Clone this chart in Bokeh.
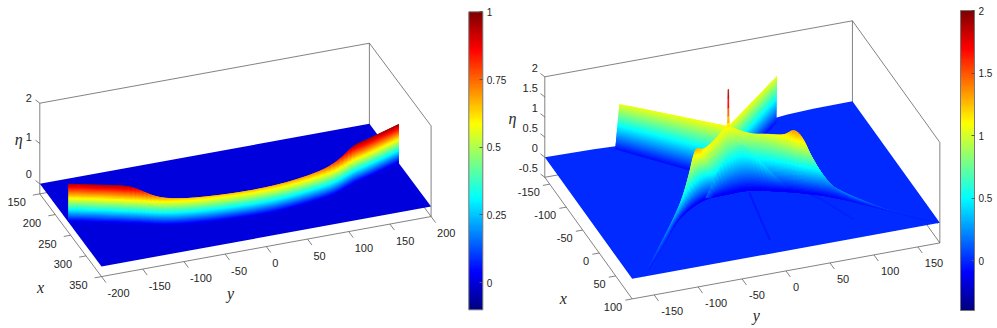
from bokeh.plotting import figure
from bokeh.layouts import row
from bokeh.models import Range1d, ColorBar, LinearColorMapper, FixedTicker
from bokeh.core.properties import value
from bokeh.embed import file_html
from bokeh.resources import INLINE
import numpy as np

# ---- Values -----------------------------------------------------------------
# The surfaces are reconstructed as sheets spanned between crest and foot
# lines; the original mesh values are not available.

# Left panel
L_xlim = [150, 350]
L_ylim = [-200, 200]
L_zlim = [-0.25, 2]
L_clim = [-0.1, 1]
L_xticks = [150, 200, 250, 300, 350]
L_yticks = [-200, -150, -100, -50, 0, 50, 100, 150, 200]
L_zticks = [0, 1, 2]
L_ctick = [0, 0.25, 0.5, 0.75, 1]
L_ctick_labels = ["0", "0.25", "0.5", "0.75", "1"]
L_crest_y = [-200, -170, -138.4, -121.6, -104, -75, -29, 27, 82, 110, 135, 155, 200]
L_crest_x = [242.5, 255.7, 269.6, 277.2, 285.7, 294.3, 300.8, 302.8, 294.7, 286.4, 272.3, 264.7, 245.3]
L_crest_h = [0.95, 0.95, 0.945, 0.82, 0.70, 0.66, 0.66, 0.68, 0.72, 0.82, 0.95, 0.97, 0.97]

# Right panel
R_xlim = [-165, 100]
R_ylim = [-175, 175]
R_zlim = [-0.5, 2]
R_clim = [-0.4, 2]
R_xticks = [-150, -100, -50, 0, 50, 100]
R_yticks = [-150, -100, -50, 0, 50, 100, 150]
R_zticks = [-0.5, 0, 0.5, 1, 1.5, 2]
R_ctick = [0, 0.5, 1, 1.5, 2]
R_ctick_labels = ["0", "0.5", "1", "1.5", "2"]
# back edge of the floor, which is not quite straight
R_back_y = [-175, -120, -90, 0, 87, 100, 130, 175]
R_back_x = [-165, -163, -161, -160, -160, -162, -164, -165]

# back-left stem
A_crest_x = [-160, -119, -75]
A_crest_y = [-92, -47, 0]
A_crest_h = [1.05, 1.07, 1.10]
A_foot_x = [-162, -120.5, -79]
A_foot_y = [-96, -59, -22]
A_foot_h = [-0.08, -0.08, -0.08]
# back-right stem
B_crest_x = [-159, -117, -75]
B_crest_y = [87, 44, 0]
B_crest_h = [1.05, 1.08, 1.10]
B_foot_x = [-156, -114, -72]
B_foot_y = [85, 41, -3]
B_foot_h = [-0.08, -0.08, -0.08]
# front arc-shaped front sheet
C_crest_x = [100, 58.1, 23.1, 2.9, -16.5, -27, -28.7, -36.2, -57.8, -73.3, -62.2, -50.6, -35.7, -25.7, -20.3, -16.2, -1.2, 17.5, 50.3, 78.3, 100]
C_crest_y = [-161, -127.1, -98.8, -81.7, -66.9, -57.9, -52.8, -42.4, -19, -1.9, 18.6, 35.2, 48.6, 56.1, 63.6, 71.5, 77.4, 85.5, 111, 138.5, 172]
C_crest_h = [0.05, 0.20, 0.35, 0.55, 0.85, 1.15, 1.30, 1.15, 1.10, 1.12, 1.00, 1.05, 1.15, 1.35, 1.20, 0.80, 0.45, 0.30, 0.20, 0.12, 0.03]
C_foot_x = [100, 45.5, 0.5, -23.6, -35, -38.7, -39, -39.1, -39.4, -39.8, -36.3, -29.2, -21.4, -11.5, -2.9, 7, 18.5, 31.1, 53.2, 76.9, 100]
C_foot_y = [-161, -118.5, -86.5, -62.3, -42.8, -30, -20.4, -14.7, -7.1, 4.5, 18.4, 34.7, 50.8, 66, 78, 89.4, 100.3, 110.7, 129, 150.4, 173]
C_foot_h = [0, -0.02, -0.08, -0.12, -0.12, -0.13, -0.13, -0.13, -0.13, -0.13, -0.13, -0.13, -0.13, -0.12, -0.11, -0.10, -0.08, -0.06, -0.03, -0.01, 0]
# inner hump on the front sheet
D_crest_x = [-20.4, -37.4, -56.2, -65.5, -60.6, -40.4, -28.9]
D_crest_y = [-46.4, -28.6, -8.3, 8.5, 16.1, 27.5, 40.2]
D_crest_h = [0.12, 0.40, 0.60, 0.70, 0.66, 0.42, 0.14]
D_foot_x = [-38.7, -39, -39.4, -39.8, -36.3, -29.2, -21.4]
D_foot_y = [-30, -20.4, -7.1, 4.5, 18.4, 34.7, 50.8]
D_foot_h = [-0.13, -0.13, -0.13, -0.13, -0.13, -0.13, -0.13]
# central spike
S_x = -75
S_y = 0
S_h = [1.08, 1.18, 1.35, 1.55, 1.8, 2.02]
S_w = [2.4, 1.3, 0.9, 0.8, 0.7, 0.5]
# faint creases on the floor
E1_x = [-33, 28, 70]
E1_y = [8, -1, -7]
E1_h = [-0.10, -0.07, -0.05]
E2_x = [-25, 12, 60]
E2_y = [58, 75, 92]
E2_h = [-0.08, -0.05, -0.04]

# ---- Styles ------------------------------------------------------------------
FONT = "Liberation Sans"
SERIF = "Liberation Serif"
TXT = "#262626"
LINE = "#4d4d4d"
PAGE_H = 328


def jet(f):
    f = float(np.clip(f, 0, 1))
    r = np.clip(1.5 - abs(4 * f - 3), 0, 1)
    g = np.clip(1.5 - abs(4 * f - 2), 0, 1)
    b = np.clip(1.5 - abs(4 * f - 1), 0, 1)
    return "#%02x%02x%02x" % (int(r * 255), int(g * 255), int(b * 255))


JET = [jet(i / 255) for i in range(256)]


class Proj:
    def __init__(self, origin, lims, ex, ey, ez):
        self.o, self.lims, self.ex, self.ey, self.ez = origin, lims, ex, ey, ez

    def __call__(self, x, y, z):
        dx = np.asarray(x, float) - self.lims[0]
        dy = np.asarray(y, float) - self.lims[1]
        z = np.asarray(z, float)
        return (self.o[0] + dx * self.ex[0] + dy * self.ey[0] + z * self.ez[0],
                self.o[1] + dx * self.ex[1] + dy * self.ey[1] + z * self.ez[1])


def smooth(a, nsub):
    """Catmull-Rom rounding of a read polyline, for drawing only."""
    a = np.asarray(a, float)
    ext = np.concatenate(([2 * a[0] - a[1]], a, [2 * a[-1] - a[-2]]))
    out = []
    for i in range(1, len(ext) - 2):
        p0, p1, p2, p3 = ext[i - 1], ext[i], ext[i + 1], ext[i + 2]
        for k in range(nsub):
            t = k / nsub
            out.append(0.5 * (2 * p1 + (p2 - p0) * t + (2 * p0 - 5 * p1 + 4 * p2 - p3) * t ** 2
                              + (3 * p1 - p0 - 3 * p2 + p3) * t ** 3))
    out.append(a[-1])
    return np.array(out)


def sheet(proj, clim, cx, cy, ch, fx, fy, fh, nsub, nt):
    c = [smooth(a, nsub) for a in (cx, cy, ch)]
    f = [smooth(a, nsub) for a in (fx, fy, fh)]
    m = len(c[0])
    xs, ys, cols = [], [], []
    ts = np.linspace(0, 1, nt + 1)
    span = clim[1] - clim[0]
    for k in range(nt):
        t0, t1 = ts[k], ts[min(k + 2, nt)]
        tm = ts[k + 1]
        P0 = [c[i] + (f[i] - c[i]) * t0 for i in range(3)]
        P1 = [c[i] + (f[i] - c[i]) * t1 for i in range(3)]
        Pm = [c[i] + (f[i] - c[i]) * tm for i in range(3)]
        u0, v0 = proj(*P0)
        u1, v1 = proj(*P1)
        for j in range(m - 1):
            j2 = min(j + 2, m - 1)   # each cell overlaps the next one: no seams
            xs.append([u0[j], u0[j2], u1[j2], u1[j]])
            ys.append([v0[j], v0[j2], v1[j2], v1[j]])
            e = (P0[2][j] + P0[2][j + 1] + Pm[2][j] + Pm[2][j + 1]) / 4
            cols.append(jet((e - clim[0]) / span))
    return xs, ys, cols


def panel(width, xr):
    p = figure(width=width, height=PAGE_H, x_range=Range1d(*xr),
               y_range=Range1d(PAGE_H, 0), output_backend="svg",
               toolbar_location=None, x_axis_location=None, y_axis_location=None,
               min_border=0, outline_line_color=None, background_fill_color=None,
               border_fill_color=None)
    p.grid.visible = False
    return p


def frame(p, proj, xl, yl, zl, xt, yt, zt, x_off, y_off, z_off, z_lab):
    xa, xb = xl
    ya, yb = yl
    za, zb = zl
    edges = [((xa, ya, zb), (xa, yb, zb)), ((xa, yb, zb), (xb, yb, zb)),
             ((xa, ya, za), (xa, ya, zb)), ((xa, yb, za), (xa, yb, zb)),
             ((xb, yb, za), (xb, yb, zb)), ((xa, ya, za), (xb, ya, za)),
             ((xb, ya, za), (xb, yb, za)), ((xa, ya, za), (xa, yb, za)),
             ((xa, yb, za), (xb, yb, za))]
    xs, ys = [], []
    for a, b in edges:
        ua, va = proj(*a)
        ub, vb = proj(*b)
        xs.append([float(ua), float(ub)])
        ys.append([float(va), float(vb)])
    p.multi_line(xs, ys, line_color=LINE, line_width=0.7)
    ex, ey = proj.ex, proj.ey
    ln = np.hypot(*ey)
    dxt = (-ey[0] / ln * 7, -ey[1] / ln * 7)
    ln2 = np.hypot(*ex)
    dyt = (ex[0] / ln2 * 7.5, ex[1] / ln2 * 7.5)
    u, v = proj(xt, [ya] * len(xt), [za] * len(xt))
    p.segment(u, v, u + dxt[0], v + dxt[1], line_color=LINE, line_width=0.7)
    p.text(u + x_off[0], v + x_off[1], text=[str(t) for t in xt], text_font=value(FONT),
           text_font_size="11px", text_color=TXT, text_align="right", text_baseline="middle")
    u, v = proj([xb] * len(yt), yt, [za] * len(yt))
    p.segment(u, v, u + dyt[0], v + dyt[1], line_color=LINE, line_width=0.7)
    p.text(u + y_off[0], v + y_off[1], text=[str(t) for t in yt], text_font=value(FONT),
           text_font_size="11px", text_color=TXT, text_align="left", text_baseline="middle")
    u, v = proj([xa] * len(zt), [ya] * len(zt), zt)
    p.segment(u, v, u - 4.3, v - 3.3, line_color=LINE, line_width=0.7)
    p.text(u + z_off, v + np.asarray(z_lab), text=[str(t) for t in zt], text_font=value(FONT),
           text_font_size="11px", text_color=TXT, text_align="right", text_baseline="middle")


def math_label(p, x, y, s):
    p.text([x], [y], text=[s], text_font=value(SERIF), text_font_style="italic",
           text_font_size="16px", text_color=TXT, text_align="center", text_baseline="middle")


def colorbar(p, clim, ticks, labels, loc, h):
    cm = LinearColorMapper(palette=JET, low=clim[0], high=clim[1])
    cb = ColorBar(color_mapper=cm, ticker=FixedTicker(ticks=ticks),
                  major_label_overrides=dict(zip(ticks, labels)),
                  width=14, height=h, location=loc, padding=0, margin=0,
                  bar_line_color="#777777", major_tick_line_color="#555555",
                  major_tick_in=3, major_tick_out=0, minor_tick_line_color=None,
                  label_standoff=4, background_fill_color=None, border_line_color=None,
                  major_label_text_font=FONT, major_label_text_font_size="10px",
                  major_label_text_color=TXT)
    p.add_layout(cb, "center")


# ---- Left panel --------------------------------------------------------------
SPLIT = 507
pl = panel(SPLIT, (0, SPLIT))
Pl = Proj((39.3, 183.3), (L_xlim[0], L_ylim[0]), (0.3085, 0.4135), (0.824, -0.15), (0, -40.3))
frame(pl, Pl, L_xlim, L_ylim, L_zlim, L_xticks, L_yticks, L_zticks,
      (-14, 8.5), (6, 16.5), -8, [-10, -7, -5.4])
cx, cy = Pl([L_xlim[0], L_xlim[1], L_xlim[1], L_xlim[0]], [L_ylim[0], L_ylim[0], L_ylim[1], L_ylim[1]], [0, 0, 0, 0])
pl.patch(cx, cy, fill_color=jet((0 - L_clim[0]) / (L_clim[1] - L_clim[0])), line_color=None)
xs, ys, cols = sheet(Pl, L_clim, L_crest_x, L_crest_y, L_crest_h, L_crest_x, L_crest_y,
                     [0] * len(L_crest_h), 4, 36)
pl.patches(xs, ys, fill_color=cols, line_color=None)
math_label(pl, 40, 286.7, "x")
math_label(pl, 230, 293, "y")
math_label(pl, 18.3, 139.3, "η")
colorbar(pl, L_clim, L_ctick, L_ctick_labels, (468.3, PAGE_H - 309.3), 298)

# ---- Right panel -------------------------------------------------------------
pr = panel(997 - SPLIT, (SPLIT, 997))
Pr = Proj((544.3, 156.7), (R_xlim[0], R_ylim[0]), (0.3298, 0.4589), (0.879, -0.16), (0, -40.2))
frame(pr, Pr, R_xlim, R_ylim, R_zlim, R_xticks, R_yticks, R_zticks,
      (-10, 8.3), (7, 16), -7, [-9] * 6)
fx = [R_xlim[1], R_xlim[1]] + R_back_x[::-1]
fy = [R_ylim[0], R_ylim[1]] + R_back_y[::-1]
cx, cy = Pr(fx, fy, [0] * len(fx))
pr.patch(cx, cy, fill_color=jet((0 - R_clim[0]) / (R_clim[1] - R_clim[0])), line_color=None)

for tx, ty, th, al in ((E1_x, E1_y, E1_h, 0.6), (E2_x, E2_y, E2_h, 0.35)):
    u, v = Pr(tx, ty, th)
    pr.line(u, v, line_color=jet((np.mean(th) - R_clim[0]) / 2.4), line_width=2, line_alpha=al)

allx, ally, allc = [], [], []
for tb in ((B_crest_x, B_crest_y, B_crest_h, B_foot_x, B_foot_y, B_foot_h, 6, 36),
           (A_crest_x, A_crest_y, A_crest_h, A_foot_x, A_foot_y, A_foot_h, 6, 36),
           (C_crest_x, C_crest_y, C_crest_h, C_foot_x, C_foot_y, C_foot_h, 4, 48),
           (D_crest_x, D_crest_y, D_crest_h, D_foot_x, D_foot_y, D_foot_h, 4, 30)):
    xs, ys, cols = sheet(Pr, R_clim, *tb)
    allx += xs
    ally += ys
    allc += cols
pr.patches(allx, ally, fill_color=allc, line_color=None)

sx, sy, sc = [], [], []
for i in range(len(S_h) - 1):
    ua, va = Pr(S_x, S_y - S_w[i], S_h[i])
    ub, vb = Pr(S_x, S_y + S_w[i], S_h[i])
    uc, vc = Pr(S_x, S_y + S_w[i + 1], S_h[i + 1])
    ud, vd = Pr(S_x, S_y - S_w[i + 1], S_h[i + 1])
    sx.append([float(ua), float(ub), float(uc), float(ud)])
    sy.append([float(va), float(vb), float(vc), float(vd)])
    sc.append(jet(((S_h[i] + S_h[i + 1]) / 2 - R_clim[0]) / 2.4))
pr.patches(sx, sy, fill_color=sc, line_color=sc, line_width=0.3)

math_label(pr, 562.7, 297.7, "x")
math_label(pr, 755.7, 315, "y")
math_label(pr, 512, 118, "η")
colorbar(pr, R_clim, R_ctick, R_ctick_labels, (960 - SPLIT, PAGE_H - 310), 300)

open("out.html", "w").write(file_html(row(pl, pr, spacing=0), INLINE))
